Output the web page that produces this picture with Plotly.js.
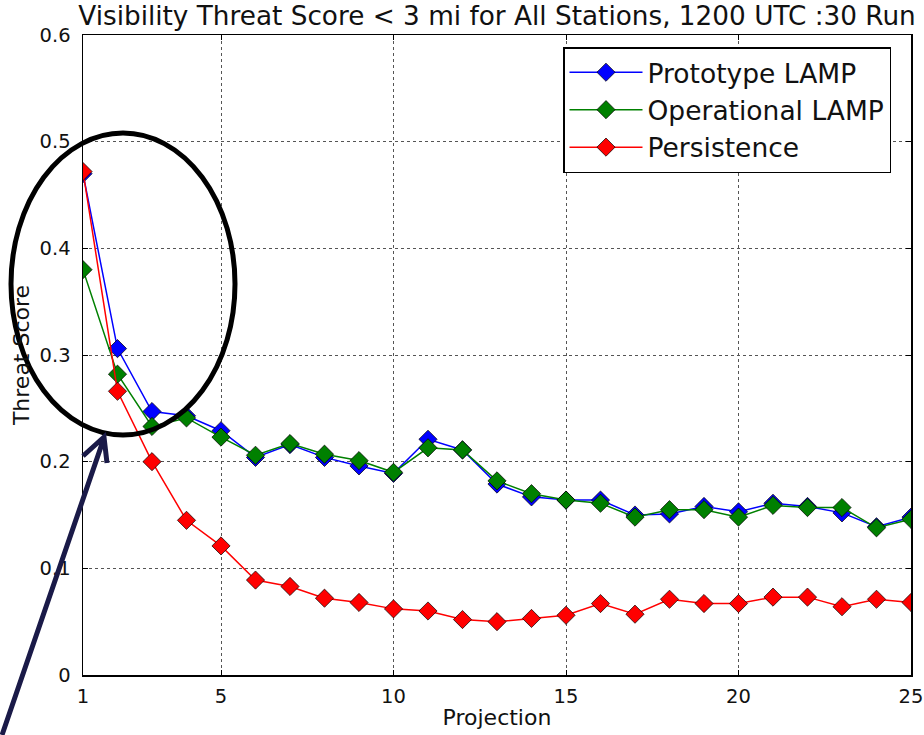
<!DOCTYPE html>
<html>
<head>
<meta charset="utf-8">
<script src="https://cdn.plot.ly/plotly-3.0.1.min.js"></script>
<style>html,body{margin:0;padding:0;background:#fff;}#chart{width:924px;height:735px;}</style>
</head>
<body>
<div id="chart"></div>
<script>
// Data
const projection = [1,2,3,4,5,6,7,8,9,10,11,12,13,14,15,16,17,18,19,20,21,22,23,24,25];
const prototypeLAMP = [0.470,0.306,0.247,0.243,0.229,0.204,0.216,0.204,0.196,0.189,0.221,0.211,0.179,0.167,0.164,0.164,0.150,0.151,0.158,0.153,0.161,0.158,0.152,0.139,0.148];
const operationalLAMP = [0.380,0.282,0.233,0.241,0.223,0.206,0.217,0.207,0.201,0.190,0.213,0.211,0.182,0.170,0.164,0.161,0.148,0.155,0.155,0.148,0.159,0.157,0.157,0.138,0.146];
const persistence = [0.472,0.266,0.200,0.145,0.121,0.089,0.083,0.072,0.068,0.062,0.060,0.052,0.050,0.053,0.056,0.067,0.057,0.071,0.067,0.067,0.073,0.073,0.064,0.071,0.068];
const seriesNames = ["Prototype LAMP","Operational LAMP","Persistence"];
const seriesColors = ["#0000ff","#008000","#ff0000"];
const xTicks = [1,5,10,15,20,25];
const yTicks = [0,0.1,0.2,0.3,0.4,0.5,0.6];

const W = 924, H = 735;
const M = {l:83, r:13, t:35, b:60};
const PW = W - M.l - M.r, PH = H - M.t - M.b;
const px = x => (x - M.l) / PW;
const py = y => 1 - (y - M.t) / PH;

const FONT = "DejaVu Sans, Liberation Sans, sans-serif";
const series = [prototypeLAMP, operationalLAMP, persistence];
const traces = series.map((s, i) => ({
  x: projection, y: s, name: seriesNames[i], type: "scatter", mode: "lines+markers",
  line: {color: seriesColors[i], width: 1.5},
  marker: {symbol: "diamond", size: 14, color: seriesColors[i], line: {color: "#000", width: 0.7}}
}));

const axisCommon = {
  showline: true, linecolor: "#000", linewidth: 1.5, mirror: "ticks",
  ticks: "inside", ticklen: 5, tickcolor: "#000", tickwidth: 1,
  showgrid: true, gridcolor: "#555", griddash: "dot", gridwidth: 1,
  zeroline: false, tickfont: {family: FONT, size: 19.5, color: "#111"}, automargin: false
};

const arrowPath = "M" + px(2) + "," + py(735) + " L" + px(104) + "," + py(438) +
  " M" + px(83) + "," + py(456) + " L" + px(104) + "," + py(437) + " L" + px(107) + "," + py(463);

const layout = {
  width: W, height: H, margin: M,
  paper_bgcolor: "#fff", plot_bgcolor: "#fff",
  font: {family: FONT, color: "#111"},
  title: {text: "Visibility Threat Score < 3 mi for All Stations, 1200 UTC :30 Run",
          font: {family: FONT, size: 26.3, color: "#111"}, xref: "paper", x: 0.5, xanchor: "center",
          yref: "container", y: 1 - 16/735, yanchor: "middle"},
  xaxis: Object.assign({}, axisCommon, {range: [1, 25], tickvals: xTicks, ticklabelstandoff: 3,
          title: {text: "Projection", font: {family: FONT, size: 22, color: "#111"}, standoff: 2}}),
  yaxis: Object.assign({}, axisCommon, {range: [0, 0.6], tickvals: yTicks, ticklabelstandoff: 7,
          title: {text: "Threat Score", font: {family: FONT, size: 22, color: "#111"}, standoff: 4}}),
  showlegend: true,
  legend: {x: px(563), y: py(47), xanchor: "left", yanchor: "top", bgcolor: "#fff",
           bordercolor: "#000", borderwidth: 1.5, font: {family: FONT, size: 26.5, color: "#111"},
           itemwidth: 73, tracegroupgap: 0},
  shapes: [
    {type: "circle", xref: "paper", yref: "paper", x0: px(11), x1: px(235), y0: py(435), y1: py(133),
     line: {color: "#000", width: 5}, layer: "above"},
    {type: "path", xref: "paper", yref: "paper", path: arrowPath,
     line: {color: "#1a1a48", width: 5}, layer: "above"}
  ]
};

Plotly.newPlot("chart", traces, layout, {displayModeBar: false, staticPlot: true});
</script>
</body>
</html>
